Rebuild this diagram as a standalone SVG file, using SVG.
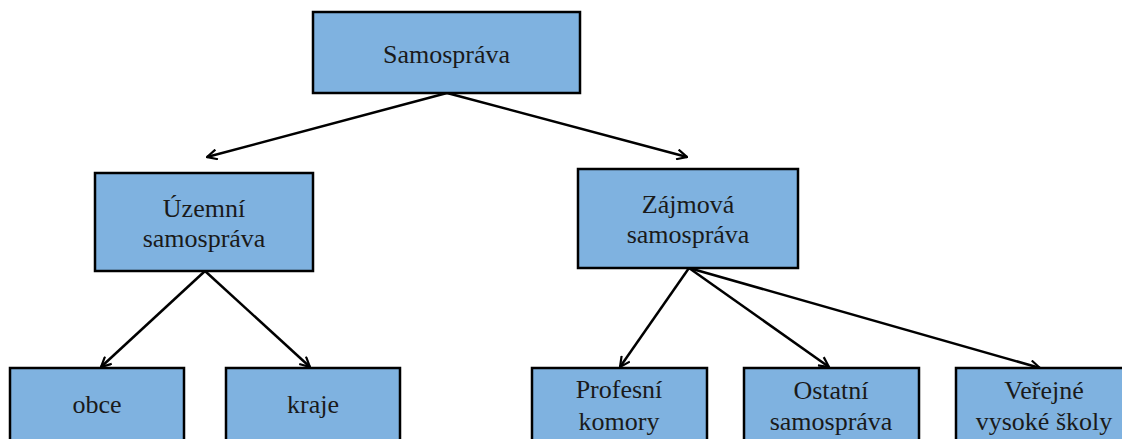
<svg xmlns="http://www.w3.org/2000/svg" width="1122" height="439" viewBox="0 0 1122 439">
<defs>
<style>
.box{fill:#7FB2E0;stroke:#000;stroke-width:2.5}
.t{font-family:"Liberation Serif","Times New Roman",serif;font-size:26px;fill:#1a1a1a;text-anchor:middle}
.c{stroke:#000;stroke-width:2.5;fill:none;marker-end:url(#ah)}
</style>
<marker id="ah" viewBox="0 0 12 12" refX="11" refY="6" markerWidth="12" markerHeight="12" markerUnits="userSpaceOnUse" orient="auto">
<polyline points="1,1 11,6 1,11" fill="none" stroke="#000" stroke-width="2.2"/>
</marker>
</defs>
<rect width="1122" height="439" fill="#fff"/>
<g id="connectors">
<line class="c" x1="447" y1="93" x2="207" y2="157"/>
<line class="c" x1="447" y1="93" x2="687" y2="157"/>
<line class="c" x1="205" y1="271" x2="101" y2="367"/>
<line class="c" x1="205" y1="271" x2="310" y2="367"/>
<line class="c" x1="689" y1="268" x2="620" y2="367"/>
<line class="c" x1="689" y1="268" x2="829" y2="367"/>
<line class="c" x1="689" y1="268" x2="1040" y2="368"/>
</g>
<g id="samosprava">
<rect class="box" x="313" y="12" width="267" height="81"/>
<text class="t" x="446.5" y="63">Samospráva</text>
</g>
<g id="uzemni">
<rect class="box" x="95" y="173" width="218" height="98"/>
<text class="t" x="204" y="217">Územní</text>
<text class="t" x="204" y="247">samospráva</text>
</g>
<g id="zajmova">
<rect class="box" x="578" y="169" width="220" height="99"/>
<text class="t" x="688" y="213">Zájmová</text>
<text class="t" x="688" y="243">samospráva</text>
</g>
<g id="obce">
<rect class="box" x="10" y="368" width="174" height="90"/>
<text class="t" x="97" y="413">obce</text>
</g>
<g id="kraje">
<rect class="box" x="226" y="368" width="174" height="90"/>
<text class="t" x="313" y="413">kraje</text>
</g>
<g id="profesni">
<rect class="box" x="532" y="368" width="175" height="90"/>
<text class="t" x="619" y="398">Profesní</text>
<text class="t" x="619" y="430">komory</text>
</g>
<g id="ostatni">
<rect class="box" x="744" y="368" width="175" height="90"/>
<text class="t" x="831" y="399">Ostatní</text>
<text class="t" x="831" y="430">samospráva</text>
</g>
<g id="verejne">
<rect class="box" x="956" y="368" width="176" height="90"/>
<text class="t" x="1044" y="399">Veřejné</text>
<text class="t" x="1044" y="430">vysoké školy</text>
</g>
</svg>
